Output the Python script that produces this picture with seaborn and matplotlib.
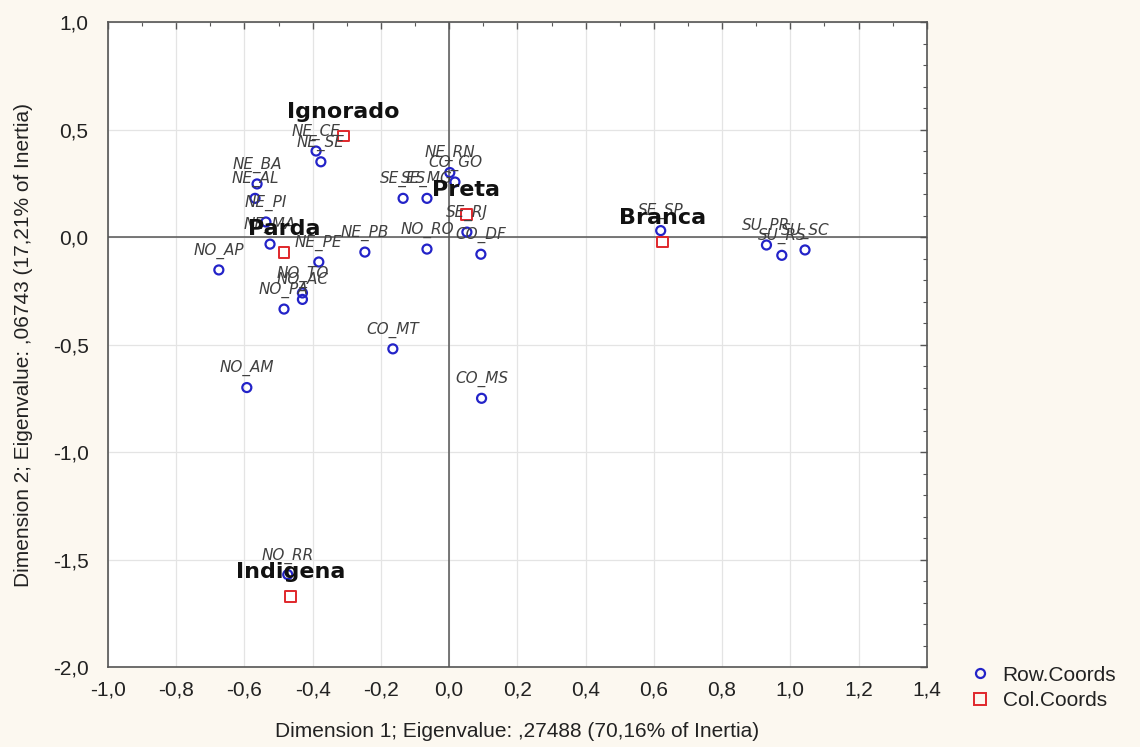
import matplotlib
matplotlib.use("Agg")
import matplotlib.pyplot as plt
from matplotlib.lines import Line2D
from matplotlib.ticker import MultipleLocator, FuncFormatter
import numpy as np
import pandas as pd
import seaborn as sns

# Row points (regions/states)
row_labels = ["NE_CE", "NE_SE", "NE_BA", "NE_AL", "NE_PI", "NE_MA", "NO_AP", "NE_PE",
              "NE_PB", "NO_TO", "NO_AC", "NO_PA", "NO_RO", "CO_DF", "SE_RJ", "NE_RN",
              "CO_GO", "SE_ES", "SE_MG", "SE_SP", "SU_PR", "SU_RS", "SU_SC", "CO_MT",
              "NO_AM", "CO_MS", "NO_RR"]
row_x = [-0.39, -0.376, -0.563, -0.569, -0.537, -0.525, -0.675, -0.382,
         -0.247, -0.43, -0.43, -0.484, -0.065, 0.093, 0.052, 0.002,
         0.017, -0.135, -0.065, 0.62, 0.93, 0.975, 1.043, -0.165,
         -0.593, 0.095, -0.473]
row_y = [0.40, 0.35, 0.247, 0.18, 0.07, -0.033, -0.153, -0.116,
         -0.07, -0.26, -0.29, -0.335, -0.056, -0.08, 0.023, 0.30,
         0.256, 0.18, 0.18, 0.03, -0.037, -0.085, -0.06, -0.52,
         -0.70, -0.75, -1.57]

# Column points (race/colour categories)
col_labels = ["Ignorado", "Preta", "Parda", "Branca", "Indigena"]
col_x = [-0.31, 0.05, -0.484, 0.626, -0.464]
col_y = [0.47, 0.107, -0.074, -0.023, -1.67]

x_title = "Dimension 1; Eigenvalue: ,27488 (70,16% of Inertia)"
y_title = "Dimension 2; Eigenvalue: ,06743 (17,21% of Inertia)"

rows = pd.DataFrame({"x": row_x, "y": row_y, "label": row_labels})
cols = pd.DataFrame({"x": col_x, "y": col_y, "label": col_labels})

sns.set_style("white")
plt.rcParams["font.family"] = ["Liberation Sans", "DejaVu Sans"]

bg = "#fcf8f0"
blue = "#2323c8"
red = "#e0272b"

fig = plt.figure(figsize=(11.4, 7.47), dpi=100, facecolor=bg)
ax = fig.add_axes([0.0947, 0.107, 0.7183, 0.8635])
ax.set_facecolor("white")

ax.set_xlim(-1.0, 1.4)
ax.set_ylim(-2.0, 1.0)

ax.grid(True, which="major", color="#e4e4e4", lw=0.9)
ax.set_axisbelow(True)
ax.axhline(0, color="#555555", lw=1.1, zorder=1)
ax.axvline(0, color="#555555", lw=1.1, zorder=1)

sns.scatterplot(data=rows, x="x", y="y", ax=ax, marker="o", s=42,
                color=blue, linewidth=1.6, zorder=3, legend=False)
sns.scatterplot(data=cols, x="x", y="y", ax=ax, marker="s", s=62,
                color=red, linewidth=1.4, zorder=3, legend=False)
for coll, c in zip(ax.collections, [blue, red]):
    coll.set_facecolor("none")
    coll.set_edgecolor(c)

for _, r in rows.iterrows():
    ax.annotate(r["label"], (r["x"], r["y"]), xytext=(0, 8), textcoords="offset points",
                ha="center", va="bottom", fontsize=11, style="italic",
                color="#404040", family=["DejaVu Sans"], zorder=4)

for _, r in cols.iterrows():
    ax.annotate(r["label"], (r["x"], r["y"]), xytext=(0, 10), textcoords="offset points",
                ha="center", va="bottom", fontsize=16, fontweight="bold",
                color="#111111", family=["DejaVu Sans"], zorder=5)

ax.xaxis.set_major_locator(MultipleLocator(0.2))
ax.xaxis.set_minor_locator(MultipleLocator(0.1))
ax.yaxis.set_major_locator(MultipleLocator(0.5))
ax.yaxis.set_minor_locator(MultipleLocator(0.1))
fmt = FuncFormatter(lambda v, p: f"{v:.1f}".replace(".", ",").replace("-0,0", "0,0"))
ax.xaxis.set_major_formatter(fmt)
ax.yaxis.set_major_formatter(fmt)
ax.tick_params(which="both", direction="in", top=True, right=True, color="#555555")
ax.tick_params(which="major", length=5, width=1, labelsize=15, labelcolor="#222222")
ax.tick_params(axis="x", which="major", pad=10)
ax.tick_params(axis="y", which="major", pad=14)
ax.tick_params(which="minor", length=3, width=0.8)
for s in ax.spines.values():
    s.set_color("#555555")
    s.set_linewidth(1.2)

ax.set_xlabel(x_title, fontsize=15, color="#222222", labelpad=16)
ax.set_ylabel(y_title, fontsize=15, color="#222222", labelpad=14)

handles = [
    Line2D([], [], marker="o", ls="none", mfc="none", mec=blue, mew=1.6, ms=6.5, label="Row.Coords"),
    Line2D([], [], marker="s", ls="none", mfc="none", mec=red, mew=1.4, ms=8, label="Col.Coords"),
]
fig.legend(handles=handles, loc="upper left", bbox_to_anchor=(0.832, 0.134),
           frameon=False, fontsize=15, handletextpad=0.5, labelspacing=0.3,
           handlelength=1.2, labelcolor="#222222")

fig.savefig("out.png", dpi=100, facecolor=bg)
